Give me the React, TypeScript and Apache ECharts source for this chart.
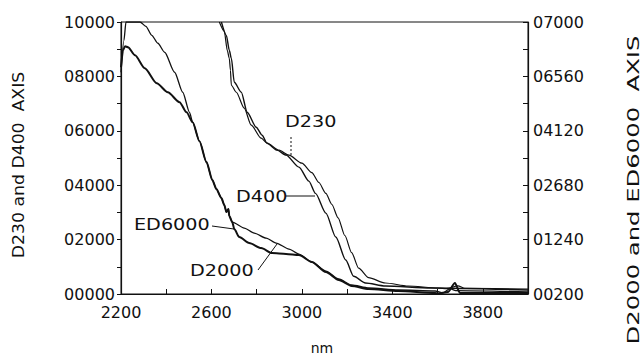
import React, { useEffect, useRef } from "react";
import * as echarts from "echarts";

// x axis (nm)
const X_TICKS = [2200, 2400, 2600, 2800, 3000, 3200, 3400, 3600, 3800, 4000];
const X_LABELS = [2200, 2600, 3000, 3400, 3800];

// left axis (D230, D400)
const LEFT_TICKS = [0, 1000, 2000, 3000, 4000, 5000, 6000, 7000, 8000, 9000, 10000];
const LEFT_LABEL_VALUES = [0, 2000, 4000, 6000, 8000, 10000];
const LEFT_LABELS = ["00000", "02000", "04000", "06000", "08000", "10000"];

// right axis (D2000, ED6000)
const RIGHT_TICKS = [-200, 520, 1240, 1960, 2680, 3400, 4120, 4840, 5560, 6280, 7000];
const RIGHT_LABEL_VALUES = [-200, 1240, 2680, 4120, 5560, 7000];
const RIGHT_LABELS = ["00200", "01240", "02680", "04120", "06560", "07000"];

// D230 (left axis)
const NM_D230 = [2635, 2657, 2670, 2679, 2684, 2688, 2710, 2745, 2776, 2820, 2846, 2899, 2943, 3000, 3044, 3075, 3106, 3132, 3160, 3190, 3220, 3251, 3295, 3369, 3470, 3602, 3640, 3690, 3720, 4000];
const D230 = [10000, 9657, 8960, 8666, 8225, 7674, 7417, 6830, 6206, 5728, 5545, 5288, 5104, 4810, 4460, 4100, 3700, 3300, 2800, 2150, 1520, 950, 600, 404, 294, 220, 200, 300, 210, 184];

// D400 (left axis)
const NM_D400 = [2644, 2666, 2679, 2688, 2701, 2732, 2758, 2798, 2824, 2846, 2890, 2930, 2987, 3031, 3060, 3106, 3150, 3194, 3229, 3281, 3369, 3571, 4000];
const D400 = [10000, 9510, 8960, 8666, 7784, 7417, 6683, 6132, 5838, 5545, 5288, 5104, 4663, 4150, 3700, 2974, 2093, 1248, 650, 404, 294, 220, 147];

// D2000 (right axis)
const NM_D2000 = [2200, 2213, 2222, 2253, 2284, 2310, 2336, 2363, 2393, 2437, 2473, 2503, 2517, 2547, 2578, 2604, 2622, 2644, 2657, 2666, 2675, 2679, 2692, 2745, 2789, 2842, 2886, 2943, 2987, 3044, 3106, 3163, 3220, 3295, 3426, 3589, 3624, 3655, 3680, 4000];
const D2000 = [5670, 6516, 7000, 7000, 7000, 6886, 6648, 6437, 6199, 5670, 5141, 4610, 4345, 3846, 3291, 2815, 2577, 2339, 2154, 1969, 2048, 1863, 1704, 1546, 1413, 1281, 1149, 990, 858, 646, 408, 197, 38, -41, -94, -120, -170, -60, -110, -147];

// ED6000 (right axis)
const NM_ED6000 = [2200, 2209, 2218, 2231, 2262, 2305, 2358, 2407, 2459, 2490, 2517, 2547, 2578, 2604, 2622, 2644, 2657, 2666, 2675, 2679, 2692, 2701, 2723, 2767, 2820, 2868, 2930, 2987, 3044, 3106, 3163, 3220, 3295, 3426, 3589, 3602, 3646, 3677, 3699, 3778, 4000];
const ED6000 = [5802, 6252, 6358, 6331, 6120, 5776, 5379, 5141, 4877, 4610, 4345, 3846, 3291, 2815, 2577, 2339, 2154, 1969, 2048, 1863, 1704, 1519, 1307, 1149, 1016, 884, 858, 831, 646, 382, 170, 12, -67, -120, -173, -190, -147, 91, -173, -173, -173];

const INK = "#111";
const FONT = "DejaVu Sans";

const pairs = (xs: number[], ys: number[]) => xs.map((x, i) => [x, ys[i]]);

export default function App() {
  const ref = useRef<HTMLDivElement>(null);
  useEffect(() => {
    if (!ref.current) return;
    const chart = echarts.init(ref.current, null, { renderer: "svg" });
    const lineSeries = (name: string, xs: number[], ys: number[], axis: number, width: number) => ({
      name,
      type: "line",
      yAxisIndex: axis,
      data: pairs(xs, ys),
      showSymbol: false,
      smooth: 0.25,
      smoothMonotone: "x",
      clip: true,
      lineStyle: { color: INK, width },
      itemStyle: { color: INK },
    });
    const labelText = (text: string, x: number, y: number) => ({
      type: "text",
      x,
      y,
      scaleX: 1.28,
      style: { text, fill: INK, font: `15px '${FONT}'`, align: "left", verticalAlign: "middle" },
    });
    const leader = (x1: number, y1: number, x2: number, y2: number, dash?: number[]) => ({
      type: "line",
      shape: { x1, y1, x2, y2 },
      style: { stroke: INK, lineWidth: 1, lineDash: dash },
    });
    chart.setOption({
      animation: false,
      backgroundColor: "#fff",
      grid: { left: 121, right: 114, top: 22, bottom: 68, show: true, borderColor: INK, borderWidth: 1, backgroundColor: "transparent" },
      xAxis: {
        type: "value",
        min: 2200,
        max: 4000,
        interval: 200,
        axisLine: { onZero: false, lineStyle: { color: INK, width: 1.2 } },
        axisTick: { inside: true, length: 5, customValues: X_TICKS, lineStyle: { color: INK } },
        axisLabel: {
          customValues: X_LABELS,
          color: INK,
          fontFamily: FONT,
          fontSize: 16,
          margin: 10,
          formatter: (v: number) => String(v),
        },
        splitLine: { show: false },
      },
      yAxis: [
        {
          type: "value",
          position: "left",
          min: 0,
          max: 10000,
          interval: 1000,
          axisLine: { show: true, lineStyle: { color: INK, width: 1.2 } },
          axisTick: { show: true, inside: false, length: 4, customValues: LEFT_TICKS, lineStyle: { color: INK } },
          axisLabel: {
            customValues: LEFT_LABEL_VALUES,
            color: INK,
            fontFamily: FONT,
            fontSize: 16,
            margin: 6,
            formatter: (v: number) => LEFT_LABELS[LEFT_LABEL_VALUES.indexOf(v)] ?? "",
          },
          splitLine: { show: false },
        },
        {
          type: "value",
          position: "right",
          min: -200,
          max: 7000,
          axisLine: { show: true, lineStyle: { color: INK, width: 1.2 } },
          axisTick: { show: true, inside: true, length: 5, customValues: RIGHT_TICKS, lineStyle: { color: INK } },
          axisLabel: {
            customValues: RIGHT_LABEL_VALUES,
            color: INK,
            fontFamily: FONT,
            fontSize: 16,
            margin: 5,
            formatter: (v: number) => RIGHT_LABELS[RIGHT_LABEL_VALUES.indexOf(v)] ?? "",
          },
          splitLine: { show: false },
        },
      ],
      series: [
        lineSeries("D230", NM_D230, D230, 0, 1.2),
        lineSeries("D400", NM_D400, D400, 0, 1.4),
        lineSeries("D2000", NM_D2000, D2000, 1, 1.3),
        lineSeries("ED6000", NM_ED6000, ED6000, 1, 2),
      ],
      graphic: [
        labelText("D230", 285, 122),
        leader(291, 137, 291, 155, [2, 2]),
        labelText("D400", 236, 197),
        leader(286, 196, 315, 196),
        labelText("ED6000", 134, 225),
        leader(212, 226, 234, 229),
        labelText("D2000", 190, 271),
        leader(258, 270, 277, 244),
        {
          type: "text",
          x: 322,
          y: 348,
          style: { text: "nm", fill: INK, font: `14px '${FONT}'`, align: "center", verticalAlign: "middle" },
        },
        {
          type: "text",
          x: 19,
          y: 165,
          rotation: Math.PI / 2,
          scaleX: 1.15,
          style: { text: "D230 and D400  AXIS", fill: INK, font: `15px '${FONT}'`, align: "center", verticalAlign: "middle" },
        },
        {
          type: "text",
          x: 634,
          y: 190,
          rotation: Math.PI / 2,
          scaleX: 1.62,
          style: { text: "D2000 and ED6000  AXIS", fill: INK, font: `15px '${FONT}'`, align: "center", verticalAlign: "middle" },
        },
      ],
    });
    return () => chart.dispose();
  }, []);
  return <div ref={ref} style={{ position: "fixed", left: 0, top: 0, width: 642, height: 362 }} />;
}
